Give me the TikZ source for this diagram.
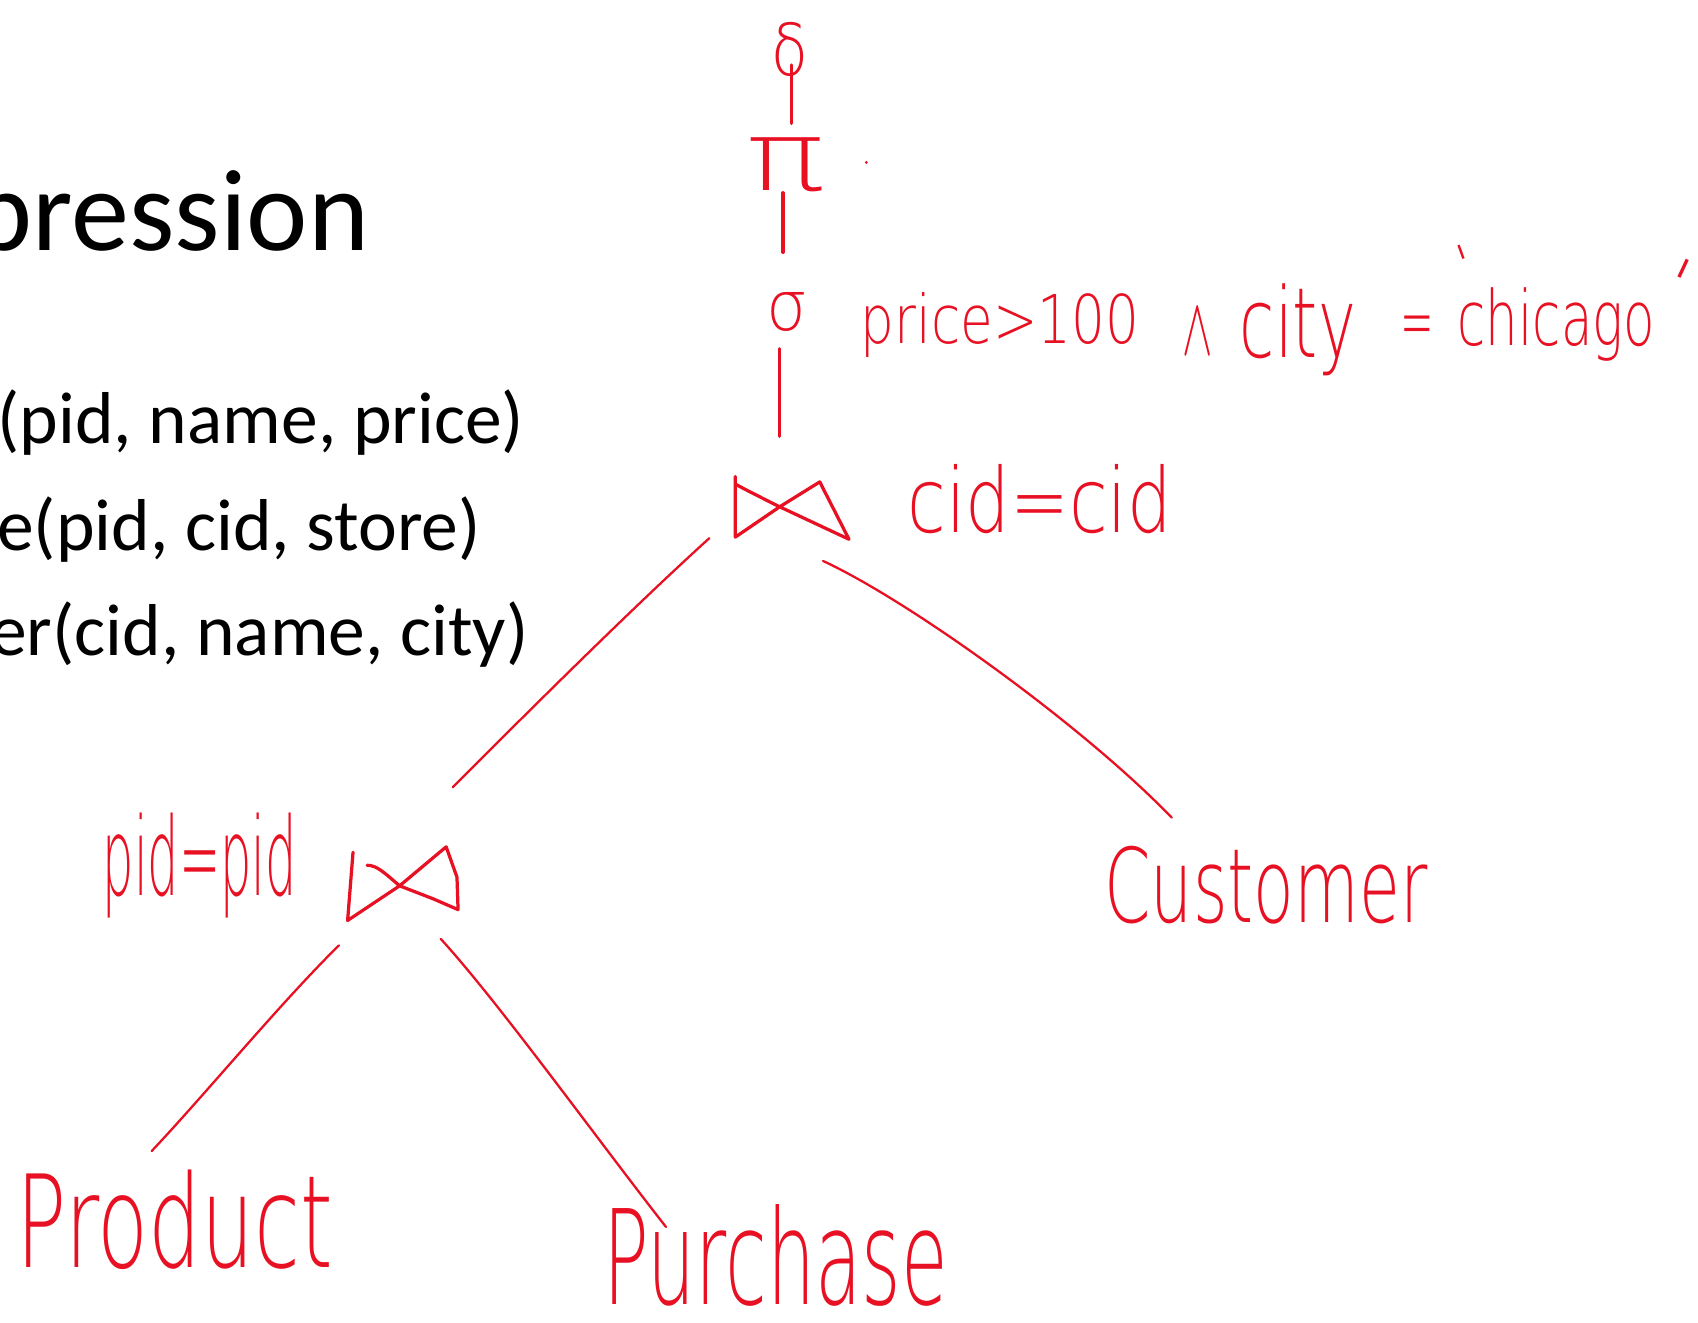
\documentclass[tikz,border=0pt]{standalone}
\usepackage{fontspec}
\usepackage{graphicx}
\setmainfont{Carlito}
\IfFontExistsTF{DejaVuSans-ExtraLight.ttf}
  {\newfontfamily\handfont{DejaVuSans-ExtraLight.ttf}}
  {\newfontfamily\handfont{DejaVu Sans}}
\definecolor{ink}{RGB}{232,17,35}
\newlength\hwunit
\setlength\hwunit{0.1mm}
% handwritten label squeezed into a box of given width and total height
\newcommand\hw[3]{\resizebox*{#1\hwunit}{#2\hwunit}{\handfont #3}}

\tikzset{
  slide/.style={inner sep=0pt, outer sep=0pt, text=black},
  hand/.style={inner sep=0pt, outer sep=0pt, text=ink, anchor=north west},
  pen/.style={draw=ink, line width=0.85pt},
  branch/.style={draw=ink, line width=0.6pt}
}

\begin{document}
\begin{tikzpicture}[x=0.01cm, y=-0.01cm, line cap=round, line join=round]
\useasboundingbox (0,0) rectangle (1568,1221);
\clip (0,0) rectangle (1568,1221);
\fill[white] (0,0) rectangle (1568,1221);

% slide text
\node[slide, font=\fontsize{30.5}{36}\selectfont, anchor=base east] (title) at (341,231) {pression};
\node[slide, font=\fontsize{19.3}{23}\selectfont, anchor=base east] (rel1) at (484,410) {(pid, name, price)};
\node[slide, font=\fontsize{19.3}{23}\selectfont, anchor=base east] (rel2) at (444,508) {e(pid, cid, store)};
\node[slide, font=\fontsize{19.3}{23}\selectfont, anchor=base east] (rel3) at (488,605) {er(cid, name, city)};

% operators at the top of the tree
\node[hand] (delta) at (712,21) {\hw{34}{50}{δ}};
\node[hand] (pi) at (689,127) {\hw{73}{50}{π}};
\fill[ink] (800,150) circle (1.4);
\node[hand] (sigma) at (708,270) {\hw{38}{36}{σ}};

% selection condition
\node[hand] (cond1) at (795,270) {\hw{257}{60}{price>100}};
\node[hand] (cond2) at (1092,285) {\hw{28}{42}{$\wedge$}};
\node[hand] (cond3) at (1145,262) {\hw{107}{85}{city}};
\node[hand] (cond4) at (1293,292) {\hw{31}{30}{=}};
\node[hand, font=\handfont\fontsize{14}{14}\selectfont, rotate=20] (quote1) at (1341,229) {'};
\node[hand] (cond5) at (1346,266) {\hw{182}{68}{chicago}};
\node[hand, font=\handfont\fontsize{19}{19}\selectfont, rotate=-25] (quote2) at (1550,236) {'};

% join conditions
\node[hand] (jc1) at (838,429) {\hw{244}{64}{cid=cid}};
\node[hand] (jc2) at (95,751) {\hw{179}{97}{pid=pid}};

% relations
\node[hand] (product) at (15,1080) {\hw{292}{92}{Product}};
\node[hand] (purchase) at (557,1112) {\hw{318}{94}{Purchase}};
\node[hand] (customer) at (1020,781) {\hw{298}{72}{Customer}};

% join symbols
\coordinate (join1) at (720,468);
\draw[pen] (679,440) -- (679,496) -- (join1) -- (757,445) -- (784,498) -- (join1)
  .. controls (700,458) and (688,452) .. (679,447);
\coordinate (join2) at (369,818);
\draw[pen] (326,787) -- (321,850) -- (join2) -- (412,782) -- (422,810) -- (423,840)
  -- (400,830) -- (join2) .. controls (355,806) and (348,799) .. (339,799);

% connector end points
\coordinate (delta-foot) at (731,60);
\coordinate (pi-head) at (731,114);
\coordinate (pi-foot) at (723,178);
\coordinate (sigma-head) at (723,233);
\coordinate (sigma-foot) at (720,322);
\coordinate (join1-head) at (720,403);
\coordinate (join1-sw) at (655,497);
\coordinate (join1-se) at (760,518);
\coordinate (join2-head) at (418,727);
\coordinate (customer-head) at (1082,755);
\coordinate (join2-sw) at (313,873);
\coordinate (join2-se) at (407,867);
\coordinate (product-head) at (140,1063);
\coordinate (purchase-head) at (615,1133);

% tree edges
\draw[pen] (delta-foot) -- (pi-head);
\draw[pen] (pi-foot) -- (sigma-head);
\draw[pen] (sigma-foot) -- (join1-head);
\draw[branch] (join1-sw) .. controls (580,565) and (480,665) .. (join2-head);
\draw[branch] (join1-se) .. controls (840,555) and (1000,670) .. (customer-head);
\draw[branch] (join2-sw) .. controls (260,925) and (190,1010) .. (product-head);
\draw[branch] (join2-se) .. controls (460,925) and (550,1050) .. (purchase-head);
\end{tikzpicture}
\end{document}
